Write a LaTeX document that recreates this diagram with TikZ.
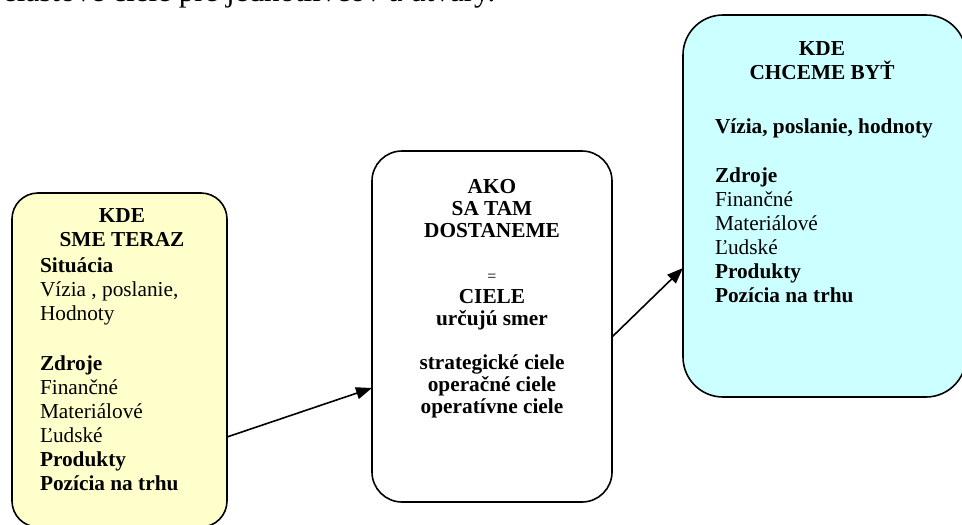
\documentclass[tikz,border=0pt]{standalone}
\usepackage{fontspec}
\setmainfont{Liberation Serif}
\usetikzlibrary{arrows.meta}
\definecolor{paleyellow}{HTML}{FFFFCC}
\definecolor{palecyan}{HTML}{CCFFFF}
\begin{document}
\begin{tikzpicture}[x=1pt,y=-1pt,
  box/.style={draw=black, line width=1.6pt, rounded corners=#1, inner sep=0pt, outer sep=0pt},
  txt/.style={inner sep=0pt, outer sep=0pt, anchor=base},
  link/.style={line width=1.6pt, -{Triangle[length=16pt,width=12pt]}}]
\useasboundingbox (0,0) rectangle (962,525);

% line of body text above the chart
\node[anchor=base west, inner sep=0pt, font=\fontsize{31}{36}\selectfont] (intro) at (3,1.5)
  {elastové ciele pre jednotlivcov a útvary.};

% the three stages
\node[box=26pt, fill=paleyellow, minimum width=215pt, minimum height=334pt] (now) at (119.5,360) {};
\node[box=30pt, fill=white, minimum width=240pt, minimum height=351pt] (how) at (492,326.5) {};
\node[box=40pt, fill=palecyan, minimum width=283pt, minimum height=382pt] (goal) at (824.5,206) {};

% texts of the first stage (anchored at the baseline of their last line)
\node[txt, align=center, font=\fontsize{21.3}{24}\selectfont\bfseries] (nowtitle) at (122,246)
  {KDE\\SME TERAZ};
\node[txt, anchor=base west, align=left, font=\fontsize{21.3}{24}\selectfont] (nowitems) at (40,490)
  {\textbf{Situácia}\\Vízia , poslanie,\\Hodnoty\\[26pt]
   \textbf{Zdroje}\\Finančné\\Materiálové\\Ľudské\\\textbf{Produkty}\\\textbf{Pozícia na trhu}};

% texts of the second stage
\node[txt, align=center, font=\fontsize{21.3}{22}\selectfont\bfseries] (howtext) at (492,413)
  {AKO\\SA TAM\\DOSTANEME\\[22pt]
   {\mdseries\fontsize{16}{22}\selectfont =}\\CIELE\\určujú smer\\[22pt]
   strategické ciele\\operačné ciele\\operatívne ciele};

% texts of the third stage
\node[txt, align=center, font=\fontsize{21.3}{24}\selectfont\bfseries] (goaltitle) at (822,79)
  {KDE\\CHCEME BYŤ};
\node[txt, anchor=base west, align=left, font=\fontsize{21.3}{24}\selectfont] (goalitems) at (715,302)
  {\textbf{Vízia, poslanie, hodnoty}\\[25pt]
   \textbf{Zdroje}\\Finančné\\Materiálové\\Ľudské\\\textbf{Produkty}\\\textbf{Pozícia na trhu}};

% connectors
\draw[link] ([yshift=-77pt]now.east) -- ([yshift=-61.5pt]how.west);
\draw[link] ([yshift=-10.5pt]how.east) -- ([yshift=-62pt]goal.west);
\end{tikzpicture}
\end{document}
